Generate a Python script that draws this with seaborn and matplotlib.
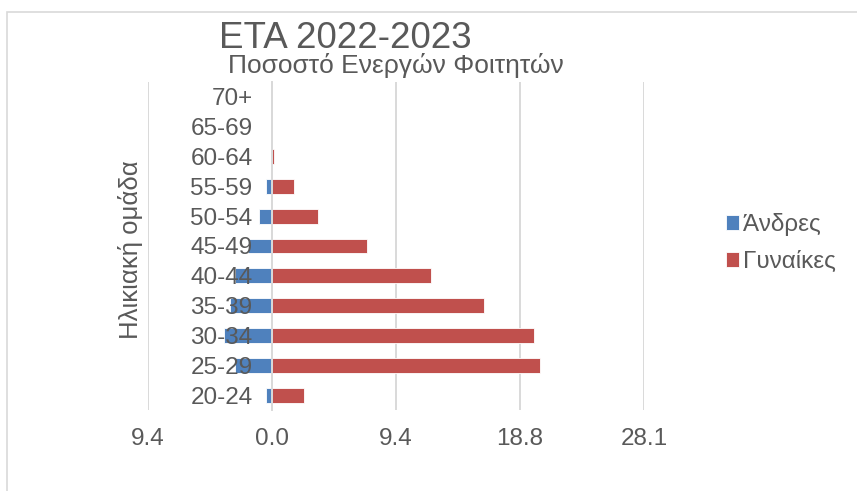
import matplotlib
matplotlib.use("Agg")
import matplotlib.pyplot as plt
from matplotlib.patches import Rectangle
import seaborn as sns
import pandas as pd
import numpy as np

# ---- data ----
age_groups = ["70+", "65-69", "60-64", "55-59", "50-54", "45-49",
              "40-44", "35-39", "30-34", "25-29", "20-24"]
men = [0.05, 0.0, 0.0, 0.45, 1.0, 1.8, 2.8, 3.2, 3.6, 2.8, 0.45]
women = [0.0, 0.0, 0.15, 1.7, 3.5, 7.2, 12.0, 16.0, 19.8, 20.3, 2.4]
series_names = ["Άνδρες", "Γυναίκες"]
tick_step = 9.38
title = "ETA 2022-2023"
subtitle = "Ποσοστό Ενεργών Φοιτητών"
ylabel = "Ηλικιακή ομάδα"

df = pd.DataFrame({
    "age": age_groups * 2,
    "value": [-v for v in men] + women,
    "sex": [series_names[0]] * len(men) + [series_names[1]] * len(women),
})

sns.set_style("whitegrid")
plt.rcParams["font.family"] = ["Liberation Sans", "DejaVu Sans"]
TXT = "#595959"
GRID = "#D9D9D9"
BLUE = "#4F81BD"
RED = "#C0504D"

W, H = 857, 491
fig = plt.figure(figsize=(W / 100, H / 100), dpi=100)
ax = fig.add_axes([148 / W, 1 - 410 / H, (644 - 148) / W, (410 - 82) / H])

sns.barplot(data=df, y="age", x="value", hue="sex", orient="h", dodge=False,
            order=age_groups, hue_order=series_names, palette=[BLUE, RED],
            saturation=1, width=0.5, edgecolor="white", linewidth=0.6, ax=ax)

ticks = np.arange(-1, 4) * tick_step
ax.set_xlim(ticks[0], ticks[-1])
ax.set_xticks(ticks)
ax.set_xticklabels([f"{abs(t):.1f}" for t in ticks])
ax.set_xlabel("")
ax.grid(axis="x", color=GRID, linewidth=1.4)
ax.grid(axis="y", visible=False)
ax.set_axisbelow(True)
ax.yaxis.set_zorder(5)

for s in ["top", "right", "bottom"]:
    ax.spines[s].set_visible(False)
ax.spines["left"].set_position(("data", 0))
ax.spines["left"].set_color(GRID)
ax.spines["left"].set_linewidth(1.4)
ax.spines["left"].set_zorder(4)

ax.tick_params(axis="y", length=0, pad=14, labelsize=17.5, labelcolor=TXT)
ax.tick_params(axis="x", length=0, pad=13, labelsize=17.5, labelcolor=TXT)

ax.set_ylabel(ylabel, fontsize=18.5, color=TXT)
ax.yaxis.set_label_coords(-0.01, 0.49)

leg = ax.get_legend()
handles = leg.legend_handles
labels = [t.get_text() for t in leg.get_texts()]
leg.remove()
ax.legend(handles, labels, loc="center left",
          bbox_to_anchor=(704 / W, 1 - 243 / H), bbox_transform=fig.transFigure,
          frameon=False, fontsize=17.5, labelcolor=TXT, handlelength=0.55,
          handleheight=0.55, handletextpad=0.15, labelspacing=0.6)

fig.text(345 / W, 1 - 38 / H, title, ha="center", va="center", fontsize=26.5, color=TXT)
fig.text(396 / W, 1 - 65 / H, subtitle, ha="center", va="center", fontsize=19, color=TXT)

fig.patches.append(Rectangle((7 / W, -0.1), 1.2, 1.1 - 12 / H, transform=fig.transFigure,
                             fill=False, edgecolor=GRID, linewidth=1.2))

fig.savefig("out.png", dpi=100)
